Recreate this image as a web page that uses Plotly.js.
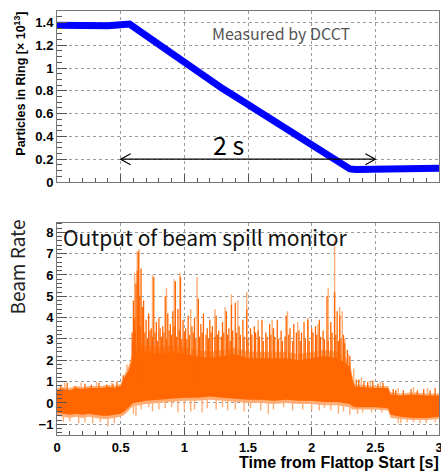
<!DOCTYPE html>
<html><head><meta charset="utf-8">
<script src="https://cdn.plot.ly/plotly-3.0.1.min.js"></script>
<style>html,body{margin:0;padding:0;background:#fff}</style>
</head><body><div id="chart" style="width:441px;height:471px"></div>
<script>
// ---- Top panel: particles in ring (x 1e13), measured by DCCT ----
const dcctT = [0, 0.1, 0.2, 0.3, 0.4, 0.5, 0.57, 0.7, 0.8, 0.9, 1.0, 1.1, 1.2, 1.3, 1.4, 1.5, 1.6, 1.7, 1.8, 1.9, 2.0, 2.1, 2.2, 2.25, 2.3, 2.35, 2.4, 2.5, 2.55, 2.6, 2.7, 2.8, 2.9, 3.0];
const dcctV = [1.375, 1.37, 1.365, 1.37, 1.37, 1.38, 1.385, 1.285, 1.205, 1.125, 1.045, 0.97, 0.895, 0.82, 0.75, 0.68, 0.605, 0.535, 0.46, 0.39, 0.315, 0.245, 0.175, 0.14, 0.115, 0.11, 0.11, 0.11, 0.115, 0.125, 0.125, 0.12, 0.12, 0.12];

// ---- Bottom panel: beam spill monitor output ----
const envT    = [0, 0.05, 0.1, 0.15, 0.2, 0.25, 0.3, 0.35, 0.4, 0.45, 0.5, 0.53, 0.56, 0.58, 0.6, 0.65, 0.7, 0.8, 0.9, 1.0, 1.1, 1.2, 1.3, 1.4, 1.5, 1.6, 1.7, 1.8, 1.9, 2.0, 2.1, 2.2, 2.26, 2.3, 2.32, 2.34, 2.4, 2.5, 2.6, 2.62, 2.7, 2.8, 2.9, 3.0];
const darkHi  = [0.6, 0.65, 0.6, 0.7, 0.65, 0.7, 0.7, 0.7, 0.75, 0.7, 0.8, 1.2, 1.5, 1.9, 2.2, 2.5, 2.4, 2.3, 2.4, 2.3, 2.2, 2.1, 2.2, 2.3, 2.1, 2.1, 2.1, 2.1, 2.0, 2.1, 2.2, 2.1, 1.9, 1.7, 1.1, 0.75, 0.75, 0.7, 0.7, 0.4, 0.35, 0.4, 0.35, 0.35];
const darkLo  = [-0.45, -0.5, -0.55, -0.5, -0.55, -0.5, -0.55, -0.6, -0.6, -0.55, -0.5, -0.4, -0.2, -0.1, 0.0, 0.05, 0.1, 0.15, 0.2, 0.25, 0.25, 0.3, 0.25, 0.2, 0.15, 0.15, 0.1, 0.15, 0.1, 0.1, 0.05, 0.05, 0.0, -0.05, -0.15, -0.2, -0.2, -0.2, -0.25, -0.55, -0.65, -0.7, -0.7, -0.65];
const lightHi = [0.7, 0.75, 0.7, 0.8, 0.75, 0.8, 0.8, 0.8, 0.85, 0.8, 0.9, 1.35, 1.7, 2.1, 2.5, 2.8, 2.7, 2.6, 2.7, 2.6, 2.5, 2.4, 2.5, 2.6, 2.4, 2.4, 2.4, 2.4, 2.3, 2.4, 2.5, 2.4, 2.2, 1.9, 1.25, 0.85, 0.85, 0.8, 0.8, 0.5, 0.45, 0.5, 0.45, 0.45];
const lightLo = [-0.6, -0.65, -0.7, -0.65, -0.7, -0.65, -0.7, -0.75, -0.75, -0.7, -0.65, -0.55, -0.35, -0.25, -0.15, -0.1, -0.05, 0.0, 0.05, 0.1, 0.1, 0.15, 0.1, 0.05, 0.0, 0.0, -0.05, 0.0, -0.05, -0.05, -0.1, -0.1, -0.15, -0.2, -0.3, -0.3, -0.3, -0.3, -0.35, -0.7, -0.75, -0.8, -0.8, -0.75];

// spikes (time, peak value)
const darkSpikeT = [0.03, 0.08, 0.14, 0.22, 0.27, 0.33, 0.39, 0.44, 0.47, 0.52, 0.59, 0.595, 0.60, 0.61, 0.615, 0.62, 0.63, 0.635, 0.64, 0.65, 0.655, 0.66, 0.67, 0.68, 0.69, 0.70, 0.71, 0.72, 0.73, 0.74, 0.75, 0.76, 0.77, 0.78, 0.79, 0.80, 0.81, 0.82, 0.83, 0.84, 0.85, 0.86, 0.87, 0.88, 0.89, 0.90, 0.91, 0.92, 0.93, 0.94, 0.95, 0.96, 0.97, 0.98, 0.99, 1.00, 1.01, 1.02, 1.03, 1.04, 1.06, 1.07, 1.08, 1.09, 1.11, 1.12, 1.13, 1.14, 1.15, 1.17, 1.18, 1.19, 1.20, 1.21, 1.22, 1.24, 1.25, 1.26, 1.27, 1.29, 1.30, 1.31, 1.33, 1.34, 1.35, 1.36, 1.37, 1.38, 1.40, 1.41, 1.43, 1.44, 1.46, 1.47, 1.49, 1.50, 1.52, 1.53, 1.55, 1.56, 1.58, 1.59, 1.61, 1.62, 1.64, 1.65, 1.67, 1.68, 1.70, 1.71, 1.73, 1.74, 1.76, 1.77, 1.79, 1.80, 1.82, 1.83, 1.85, 1.86, 1.88, 1.90, 1.91, 1.92, 1.94, 1.95, 1.97, 1.98, 2.00, 2.01, 2.03, 2.04, 2.06, 2.07, 2.09, 2.10, 2.12, 2.13, 2.15, 2.16, 2.18, 2.19, 2.20, 2.21, 2.22, 2.23, 2.25, 2.26, 2.28, 2.30, 2.35, 2.37, 2.41, 2.44, 2.48, 2.52, 2.56, 2.64, 2.66, 2.72, 2.78, 2.83, 2.88, 2.93, 2.97];
const darkSpikeV = [0.85, 0.95, 0.8, 0.9, 0.85, 0.95, 0.85, 0.9, 1.0, 1.3, 3.3, 2.9, 4.8, 4.0, 3.4, 5.6, 6.2, 4.1, 7.1, 5.0, 3.6, 6.3, 4.5, 4.8, 3.3, 3.9, 3.0, 4.2, 3.4, 3.5, 3.1, 5.9, 3.3, 3.8, 2.9, 4.0, 3.5, 3.1, 3.6, 3.3, 5.0, 3.0, 4.2, 3.4, 3.7, 3.2, 4.3, 3.6, 5.7, 3.1, 4.4, 3.4, 5.9, 3.0, 3.9, 3.3, 3.5, 3.0, 4.1, 3.2, 3.6, 3.3, 4.0, 3.0, 4.9, 3.1, 3.7, 3.3, 4.2, 3.2, 3.5, 3.0, 3.9, 3.3, 3.6, 3.1, 4.1, 3.2, 3.4, 3.1, 3.8, 3.3, 4.3, 3.2, 3.5, 2.9, 4.6, 3.4, 4.7, 3.3, 3.6, 3.2, 3.9, 3.1, 4.4, 3.0, 3.5, 3.2, 3.6, 3.3, 3.4, 3.1, 3.9, 2.9, 3.3, 3.1, 3.7, 3.2, 3.5, 3.1, 3.9, 3.0, 3.4, 2.9, 3.1, 4.1, 3.2, 3.5, 2.9, 3.7, 3.3, 3.4, 2.9, 3.3, 3.8, 3.0, 3.9, 2.9, 3.5, 3.3, 3.6, 3.2, 3.9, 3.1, 3.4, 3.0, 5.0, 2.9, 3.8, 3.3, 5.2, 3.2, 4.3, 2.9, 4.1, 3.0, 3.2, 2.8, 2.5, 2.2, 1.1, 1.1, 1.0, 1.0, 1.05, 0.9, 0.95, 0.65, 0.6, 0.6, 0.65, 0.6, 0.65, 0.6, 0.7];
const lightSpikeT = [0.06, 0.19, 0.31, 0.43, 0.55, 0.61, 0.63, 0.645, 0.75, 0.86, 0.92, 0.965, 1.05, 1.10, 1.24, 1.32, 1.37, 1.42, 1.49, 1.58, 1.69, 1.81, 1.89, 1.97, 2.05, 2.13, 2.18, 2.22, 2.24, 2.26, 2.29, 2.33, 2.39, 2.46, 2.54, 2.68, 2.8, 2.91];
const lightSpikeV = [0.95, 0.95, 1.0, 0.95, 1.8, 6.1, 7.1, 7.2, 6.0, 5.4, 5.8, 6.1, 4.4, 5.9, 4.4, 4.5, 5.1, 4.8, 5.2, 3.9, 3.9, 4.3, 3.8, 4.0, 3.7, 5.4, 7.6, 4.5, 4.3, 3.0, 2.3, 1.6, 1.2, 1.05, 1.0, 0.7, 0.75, 0.7];
const downSpikeT = [0.05, 0.1, 0.17, 0.22, 0.28, 0.34, 0.40, 0.45, 0.60, 0.62, 0.66, 0.72, 0.75, 0.80, 0.85, 0.90, 0.95, 1.00, 1.05, 1.08, 1.14, 1.18, 1.25, 1.30, 1.34, 1.40, 1.47, 1.52, 1.60, 1.66, 1.70, 1.78, 1.85, 1.93, 2.00, 2.06, 2.10, 2.15, 2.21, 2.25, 2.30, 2.36, 2.40, 2.47, 2.55, 2.68, 2.70, 2.75, 2.80, 2.85, 2.90, 2.97];
const downSpikeV = [-0.9, -0.85, -0.95, -0.9, -0.95, -0.9, -1.1, -0.95, -0.5, -0.6, -0.3, -0.2, -0.4, -0.3, -0.25, -0.2, -0.45, -0.35, -0.4, -0.3, -0.45, -0.25, -0.3, -0.2, -0.35, -0.3, -0.4, -0.25, -0.35, -0.5, -0.3, -0.2, -0.35, -0.3, -0.3, -0.35, -0.25, -0.35, -0.5, -0.4, -0.55, -0.5, -0.45, -0.45, -0.45, -0.95, -0.95, -0.9, -0.9, -0.95, -0.95, -0.9];

const DARK = '#ff6600', LIGHT = '#ffad75';

function spikes(ts, vs, baseFn) {
  const x = [], y = [];
  ts.forEach((t, i) => { x.push(t, t, null); y.push(baseFn(t), vs[i], null); });
  return {x, y};
}
const inDense = t => t >= 0.58 && t <= 2.3;
const upBase = t => inDense(t) ? 1.0 : 0.2;
const downBase = t => inDense(t) ? 0.6 : 0.0;

const ls = spikes(lightSpikeT, lightSpikeV, upBase);
const ds = spikes(darkSpikeT, darkSpikeV, upBase);
const dn = spikes(downSpikeT, downSpikeV, downBase);

const traces = [
  {x: dcctT, y: dcctV, xaxis: 'x', yaxis: 'y', mode: 'lines', line: {color: '#0000ff', width: 7}, hoverinfo: 'skip'},
  {x: envT, y: lightLo, xaxis: 'x2', yaxis: 'y2', mode: 'lines', line: {width: 0, color: LIGHT}, hoverinfo: 'skip'},
  {x: envT, y: lightHi, xaxis: 'x2', yaxis: 'y2', mode: 'lines', line: {width: 0, color: LIGHT}, fill: 'tonexty', fillcolor: LIGHT, hoverinfo: 'skip'},
  {x: ls.x, y: ls.y, xaxis: 'x2', yaxis: 'y2', mode: 'lines', line: {width: 1.4, color: LIGHT}, connectgaps: false, hoverinfo: 'skip'},
  {x: dn.x, y: dn.y, xaxis: 'x2', yaxis: 'y2', mode: 'lines', line: {width: 1.4, color: LIGHT}, connectgaps: false, hoverinfo: 'skip'},
  {x: envT, y: darkLo, xaxis: 'x2', yaxis: 'y2', mode: 'lines', line: {width: 0, color: DARK}, hoverinfo: 'skip'},
  {x: envT, y: darkHi, xaxis: 'x2', yaxis: 'y2', mode: 'lines', line: {width: 0, color: DARK}, fill: 'tonexty', fillcolor: DARK, hoverinfo: 'skip'},
  {x: ds.x, y: ds.y, xaxis: 'x2', yaxis: 'y2', mode: 'lines', line: {width: 1.3, color: DARK}, connectgaps: false, hoverinfo: 'skip'}
];

const tickFont = {family: 'Liberation Sans, Arial, sans-serif', size: 13, color: '#000', weight: 'bold'};
const gridCommon = {showgrid: true, gridcolor: '#9a9a9a', griddash: 'dot', gridwidth: 1, showline: true, linecolor: '#777', linewidth: 1, mirror: true, zeroline: false, ticks: 'inside', tickcolor: '#555', tickwidth: 1, fixedrange: true, ticklabeloverflow: 'allow'};

const layout = {
  width: 441, height: 471,
  margin: {l: 57, r: 2, t: 11, b: 36},
  paper_bgcolor: '#fff', plot_bgcolor: '#fff',
  showlegend: false,
  xaxis: Object.assign({}, gridCommon, {domain: [0, 1], anchor: 'y', range: [0, 3], tick0: 0, dtick: 0.5, ticklen: 8, showticklabels: false,
    minor: {dtick: 0.1, ticks: 'inside', ticklen: 4, tickcolor: '#555', showgrid: false}}),
  yaxis: Object.assign({}, gridCommon, {domain: [0.5967, 1], anchor: 'x', range: [0, 1.5], tick0: 0, dtick: 0.2, ticklen: 10, tickfont: tickFont,
    minor: {dtick: 0.05, ticks: 'inside', ticklen: 5, tickcolor: '#555', showgrid: false}}),
  xaxis2: Object.assign({}, gridCommon, {domain: [0, 1], anchor: 'y2', range: [0, 3], tick0: 0, dtick: 0.5, ticklen: 8, tickfont: tickFont,
    minor: {dtick: 0.1, ticks: 'inside', ticklen: 4, tickcolor: '#555', showgrid: false}}),
  yaxis2: Object.assign({}, gridCommon, {domain: [0, 0.5007], anchor: 'x2', range: [-1.5, 8.45], tick0: 0, dtick: 1, ticklen: 10, tickfont: tickFont,
    minor: {dtick: 0.2, ticks: 'inside', ticklen: 5, tickcolor: '#555', showgrid: false}}),
  shapes: [
    {type: 'line', xref: 'x', yref: 'y', x0: 0.5, x1: 2.5, y0: 0.2, y1: 0.2, line: {color: '#000', width: 1.2}},
    {type: 'path', xref: 'x', yref: 'y', path: 'M 0.578,0.248 L 0.5,0.2 L 0.578,0.152', line: {color: '#000', width: 1.2}},
    {type: 'path', xref: 'x', yref: 'y', path: 'M 2.422,0.248 L 2.5,0.2 L 2.422,0.152', line: {color: '#000', width: 1.2}}
  ],
  annotations: [
    {xref: 'x', yref: 'y', x: 1.2, y: 1.31, xanchor: 'left', yanchor: 'middle', showarrow: false,
     text: 'Measured by DCCT', font: {family: 'Noto Sans CJK JP, Noto Sans, sans-serif', size: 16, color: '#555'}},
    {xref: 'x', yref: 'y', x: 1.35, y: 0.335, xanchor: 'center', yanchor: 'middle', showarrow: false,
     text: '2 s', font: {family: 'Noto Sans CJK JP, Noto Sans, sans-serif', size: 25, color: '#000'}},
    {xref: 'x2', yref: 'y2', x: 0.035, y: 7.8, xanchor: 'left', yanchor: 'middle', showarrow: false,
     text: 'Output of beam spill monitor', font: {family: 'Noto Sans CJK JP, Noto Sans, sans-serif', size: 21, color: '#111'}},
    {xref: 'paper', yref: 'paper', x: -0.097, y: 1.003, xanchor: 'center', yanchor: 'top', showarrow: false, textangle: -90,
     text: 'Particles in Ring [× 10<sup>13</sup>]', font: {family: 'Liberation Sans, Arial, sans-serif', size: 12.5, color: '#000', weight: 'bold'}},
    {xref: 'paper', yref: 'paper', x: -0.107, y: 0.512, xanchor: 'center', yanchor: 'top', showarrow: false, textangle: -90,
     text: 'Beam Rate', font: {family: 'Noto Sans CJK JP, Noto Sans, sans-serif', size: 19, color: '#222'}},
    {xref: 'paper', yref: 'paper', x: 1.006, y: -0.066, xanchor: 'right', yanchor: 'middle', showarrow: false,
     text: 'Time from Flattop Start [s]', font: {family: 'Liberation Sans, Arial, sans-serif', size: 16, color: '#000', weight: 'bold'}}
  ]
};

Plotly.newPlot('chart', traces, layout, {staticPlot: true, displayModeBar: false});
</script>
</body></html>
